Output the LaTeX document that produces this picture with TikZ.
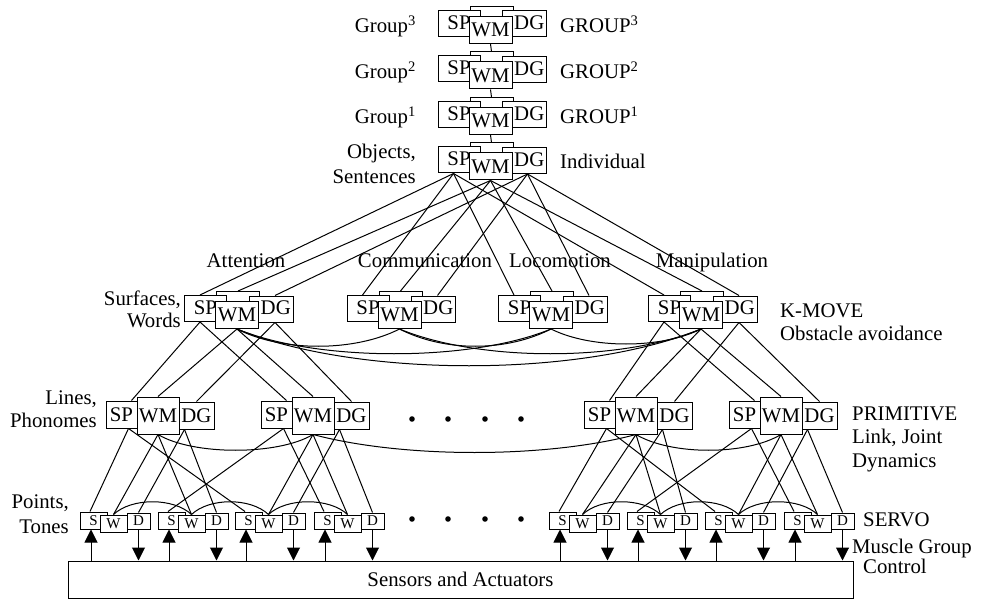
\documentclass[tikz,border=0pt]{standalone}
\usepackage{fontspec}
\setmainfont{Liberation Serif}
\usetikzlibrary{arrows.meta,backgrounds}
\tikzset{
  box/.style={draw, fill=white, inner sep=0pt, line width=1pt},
  big/.style={box, font=\fontsize{20.8}{20.8}\selectfont},
  spbox/.style={big, minimum width=42pt, minimum height=26pt, text depth=2pt},
  dgbox/.style={big, minimum width=44pt, minimum height=26pt, text depth=2pt},
  wmbox/.style={big, minimum width=43pt, minimum height=27pt},
  bkbox/.style={box, minimum width=43pt, minimum height=27pt},
  psp/.style={big, minimum width=31pt, minimum height=27pt},
  pwm/.style={big, minimum width=42pt, minimum height=37pt},
  pdg/.style={big, minimum width=35pt, minimum height=27pt},
  sbox/.style={box, font=\fontsize{15}{15}\selectfont, minimum width=27pt, minimum height=17pt},
  wbox/.style={box, font=\fontsize{15}{15}\selectfont, minimum width=27pt, minimum height=17pt},
  dbox/.style={box, font=\fontsize{15}{15}\selectfont, minimum width=23pt, minimum height=16pt},
  lab/.style={inner sep=0pt, font=\fontsize{20.8}{20.8}\selectfont},
  link/.style={line width=1pt},
  arr/.style={line width=1pt, -{Triangle[length=13pt,width=13pt]}},
}
\newcommand{\rcsnode}[3]{%
  \node[bkbox] (bk-#1) at ({#2+1},{#3-10}) {};
  \node[spbox] (sp-#1) at ({#2-31.5},{#3-6.5}) {SP\hspace{11pt}};
  \node[dgbox] (dg-#1) at ({#2+34},{#3-6}) {\hspace{9.5pt}DG};
  \node[wmbox] (wm-#1) at (#2,#3) {WM};
}
\newcommand{\primnode}[2]{%
  \node[psp] (sp-#1) at ({#2-36.5},414.5) {SP};
  \node[pdg] (dg-#1) at ({#2+38.5},415.5) {DG};
  \node[pwm] (wm-#1) at (#2,415.5) {WM};
}
\newcommand{\servonode}[2]{%
  \node[sbox] (s-#1) at ({#2-6.5},520.5) {S\hspace{7pt}};
  \node[dbox] (d-#1) at ({#2+38.5},521) {D};
  \node[wbox] (w-#1) at ({#2+13.5},523.5) {W};
}
\begin{document}
\begin{tikzpicture}[x=1pt,y=-1pt]
\useasboundingbox (0,0) rectangle (983,599);

% top stack
\rcsnode{gthree}{490.5}{30}
\rcsnode{gtwo}{490.5}{75.5}
\rcsnode{gone}{490.5}{121}
\rcsnode{ind}{490.5}{166.5}
% level 2
\rcsnode{att}{237}{315}
\rcsnode{com}{399.5}{315}
\rcsnode{loc}{551}{315}
\rcsnode{man}{701}{315}
% level 3
\primnode{pa}{158}
\primnode{pb}{313}
\primnode{pc}{636}
\primnode{pd}{781}
% level 4
\servonode{sa}{100}
\servonode{sb}{178}
\servonode{sc}{255}
\servonode{sd}{334}
\servonode{se}{569}
\servonode{sf}{647}
\servonode{sg}{725}
\servonode{sh}{804}

\node[box, minimum width=785pt, minimum height=37pt, font=\fontsize{20.8}{20.8}\selectfont] (sens) at (460.5,579.5) {Sensors and Actuators};

\begin{scope}[on background layer]
  \draw[link] (wm-gthree.south) -- (bk-gtwo.north);
  \draw[link] (wm-gtwo.south) -- (bk-gone.north);
  \draw[link] (wm-gone.south) -- (bk-ind.north);
  \foreach \n in {att,com,loc,man} {
    \draw[link] ([xshift=-5.5pt]sp-ind.south) -- ([xshift=-5.5pt]sp-\n.north);
    \draw[link] (wm-ind.south) -- (bk-\n.north);
    \draw[link] ([xshift=3pt]dg-ind.south) -- ([xshift=4pt]dg-\n.north);
  }
  \foreach \u/\d in {att/pa, att/pb, man/pc, man/pd} {
    \draw[link] ([xshift=-5.5pt]sp-\u.south) -- ([xshift=-6pt]sp-\d.north east);
    \draw[link] (wm-\u.south) -- (wm-\d.north);
    \draw[link] ([xshift=4pt]dg-\u.south) -- (dg-\d.north);
  }
  % world model curves level 2
  \draw[link] (wm-att.south) .. controls +(45,23) and +(-45,23) .. (wm-com.south);
  \draw[link] (wm-att.south) .. controls +(80,33) and +(-80,33) .. (wm-loc.south);
  \draw[link] (wm-att.south) .. controls +(120,49) and +(-120,49) .. (wm-man.south);
  \draw[link] (wm-com.south) .. controls +(45,23) and +(-45,23) .. (wm-loc.south);
  \draw[link] (wm-com.south) .. controls +(80,33) and +(-80,33) .. (wm-man.south);
  \draw[link] (wm-loc.south) .. controls +(40,20) and +(-40,20) .. (wm-man.south);
  % level 3 curves
  \draw[link] (wm-pa.south) .. controls +(35,21) and +(-35,21) .. (wm-pb.south);
  \draw[link] (wm-pb.south) .. controls +(90,24) and +(-90,24) .. (wm-pc.south);
  \draw[link] (wm-pc.south) .. controls +(35,21) and +(-35,21) .. (wm-pd.south);
  % level 3 to level 4
  \foreach \p/\sa/\sb/\wa/\wb in {pa/sa/sc/sa/sb, pb/sb/sd/sc/sd, pc/se/sg/se/sf, pd/sf/sh/sg/sh} {
    \draw[link] ([xshift=-9pt]sp-\p.south east) -- ([xshift=-3.5pt]s-\sa.north);
    \draw[link] ([xshift=-9pt]sp-\p.south east) -- ([xshift=-3.5pt]s-\sb.north);
    \draw[link] (wm-\p.south) -- (w-\wa.north);
    \draw[link] (wm-\p.south) -- (w-\wb.north);
    \draw[link] ([xshift=6pt]dg-\p.south west) -- (d-\wa.north);
    \draw[link] ([xshift=6pt]dg-\p.south west) -- (d-\wb.north);
  }
  % level 4 arcs
  \foreach \a/\b in {sa/sb, sb/sc, sc/sd, se/sf, sf/sg, sg/sh} {
    \draw[link] (w-\a.north) .. controls +(18,-17) and +(-18,-17) .. (w-\b.north);
  }
\end{scope}

% arrows
\foreach \n in {sa,sb,sc,sd,se,sf,sg,sh} {
  \draw[arr] ([xshift=-2.5pt]s-\n.south |- sens.north) -- ([xshift=-2.5pt]s-\n.south);
  \draw[arr] (d-\n.south) -- (d-\n.south |- sens.north);
}

% dots
\foreach \x in {412,448,485,521} {
  \fill (\x,419) circle (2.8);
  \fill (\x,519) circle (2.8);
}

% labels
\node[lab, anchor=base east] (l1) at (416,33) {Group\textsuperscript{3}};
\node[lab, anchor=base east] (l2) at (416,79) {Group\textsuperscript{2}};
\node[lab, anchor=base east] (l3) at (416,124) {Group\textsuperscript{1}};
\node[lab, anchor=base east] (l4) at (416,159) {Objects,};
\node[lab, anchor=base east] (l5) at (416,183) {Sentences};
\node[lab, anchor=base west] (r1) at (560,33) {GROUP\textsuperscript{3}};
\node[lab, anchor=base west] (r2) at (560,79) {GROUP\textsuperscript{2}};
\node[lab, anchor=base west] (r3) at (560,124) {GROUP\textsuperscript{1}};
\node[lab, anchor=base west] (r4) at (560,168) {Individual};
\node[lab, anchor=base] (h1) at (246,267) {Attention};
\node[lab, anchor=base] (h2) at (425,267) {Communication};
\node[lab, anchor=base] (h3) at (560,267) {Locomotion};
\node[lab, anchor=base] (h4) at (712,267) {Manipulation};
\node[lab, anchor=base east] (l6) at (181,305) {Surfaces,};
\node[lab, anchor=base east] (l7) at (181,327) {Words};
\node[lab, anchor=base west] (r5) at (780,317) {K-MOVE};
\node[lab, anchor=base west] (r6) at (780,340) {Obstacle avoidance};
\node[lab, anchor=base east] (l8) at (97,404) {Lines,};
\node[lab, anchor=base east] (l9) at (97,427) {Phonomes};
\node[lab, anchor=base west] (r7) at (852,420) {PRIMITIVE};
\node[lab, anchor=base west] (r8) at (852,443) {Link, Joint};
\node[lab, anchor=base west] (r9) at (852,467) {Dynamics};
\node[lab, anchor=base east] (l10) at (69,508) {Points,};
\node[lab, anchor=base east] (l11) at (69,533) {Tones};
\node[lab, anchor=base west] (r10) at (863,526) {SERVO};
\node[lab, anchor=base west] (r11) at (852,553) {Muscle Group};
\node[lab, anchor=base west] (r12) at (863,573) {Control};
\end{tikzpicture}
\end{document}
